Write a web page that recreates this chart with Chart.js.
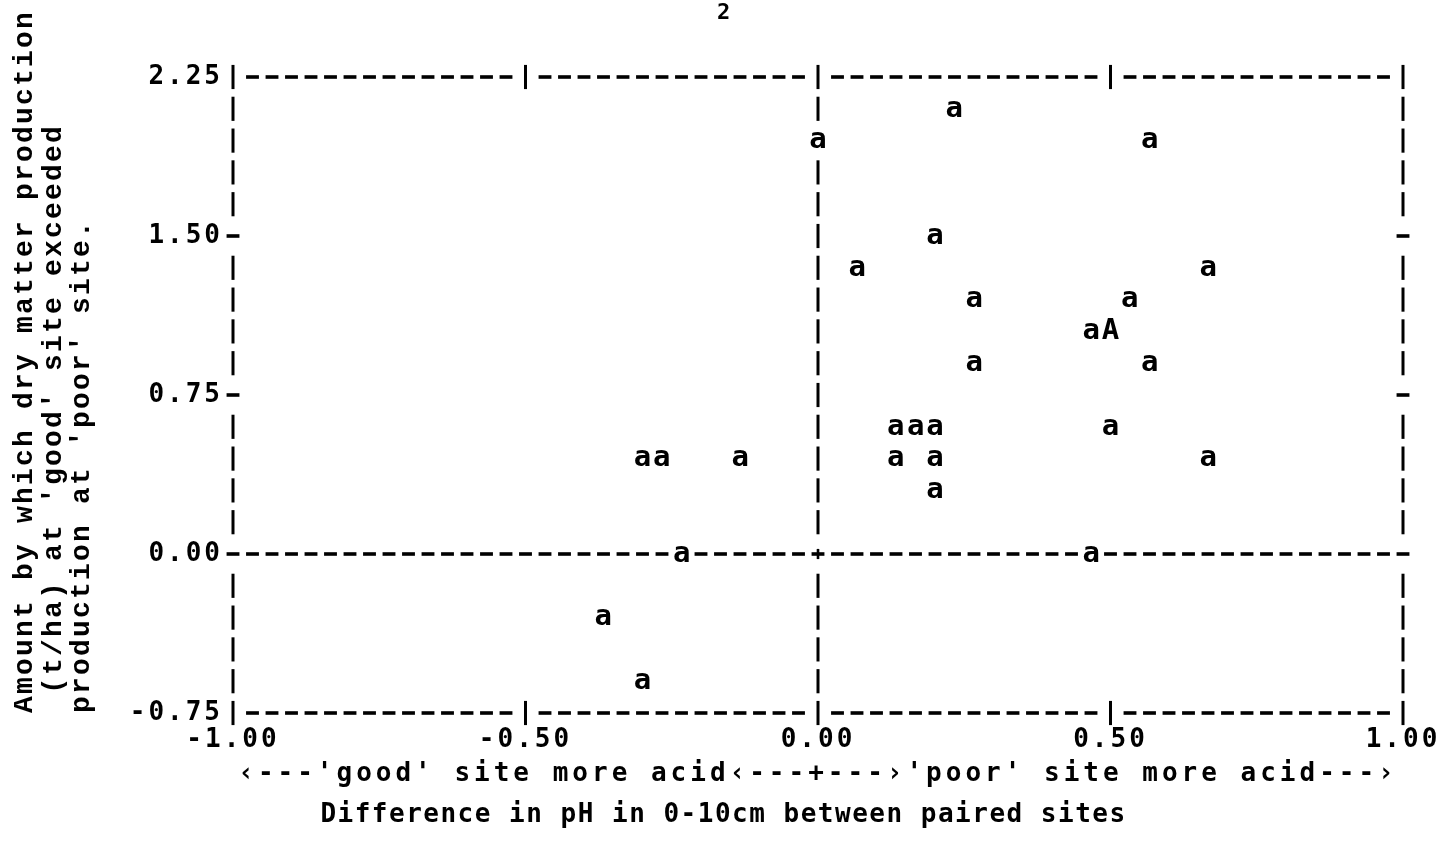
<!DOCTYPE html>
<html>
<head>
<meta charset="utf-8">
<script src="https://cdn.jsdelivr.net/npm/chart.js@4/dist/chart.umd.min.js"></script>
<style>
  html, body { margin: 0; padding: 0; background: #ffffff; }
  canvas { display: block; }
</style>
</head>
<body>
<canvas id="c" width="1447" height="847"></canvas>
<script>
// ---- content ----
const pageNumber = '2';
const xTitle = "\u2039---'good' site more acid\u2039---+---\u203a'poor' site more acid---\u203a";
const subtitleText = 'Difference in pH in 0-10cm between paired sites';
const yTitleLines = [
  'Amount by which dry matter production',
  " (t/ha) at 'good' site exceeded",
  "production at 'poor' site."
];

// ---- axes ----
const xTicks = [-1, -0.5, 0, 0.5, 1];
const xTickLabels = ['-1.00', '-0.50', '0.00', '0.50', '1.00'];
const yTicks = [-0.75, 0, 0.75, 1.5, 2.25];
const yTickLabels = ['-0.75', '0.00', '0.75', '1.50', '2.25'];
const frameX = [-1, 0, 1];          // full vertical print lines
const frameY = [2.25, 0, -0.75];    // full horizontal print lines
const colsPerUnit = 30;             // printer columns per pH unit
const rowStep = 0.15;               // printer rows in t/ha

// ---- data (symbol 'a') ----
const xLower = [0.233, 0.00, 0.567, 0.20, 0.067, 0.667, 0.267, 0.533, 0.467, 0.267, 0.567,
                0.133, 0.167, 0.20, 0.50, 0.133, 0.20, 0.667, 0.20,
                -0.30, -0.267, -0.133, -0.233, 0.467, -0.367, -0.30];
const yLower = [2.10, 1.95, 1.95, 1.50, 1.35, 1.35, 1.20, 1.20, 1.05, 0.90, 0.90,
                0.60, 0.60, 0.60, 0.60, 0.45, 0.45, 0.45, 0.30,
                0.45, 0.45, 0.45, 0.00, 0.00, -0.30, -0.60];
// ---- data (symbol 'A') ----
const xUpper = [0.50];
const yUpper = [1.05];

const MONO = '"DejaVu Sans Mono", monospace';
const near = (a, b) => Math.abs(a - b) < 1e-6;

// letter spacing per text element (printer-like wide type)
const spacingPlugin = {
  id: 'spacing',
  beforeDraw(chart) {
    const ctx = chart.ctx;
    const wrap = (obj, name, sp) => {
      if (!obj || obj['_wrapped_' + name]) return;
      const orig = obj[name];
      obj[name] = function (...args) {
        const prev = ctx.letterSpacing;
        ctx.letterSpacing = sp + 'px';
        try { return orig.apply(this, args); } finally { ctx.letterSpacing = prev; }
      };
      obj['_wrapped_' + name] = true;
    };
    wrap(chart.scales.x, 'drawLabels', 3);
    wrap(chart.scales.x, 'drawTitle', 4);
    wrap(chart.scales.y, 'drawLabels', 3);
    wrap(chart.scales.y, 'drawTitle', 2.2);
    chart.boxes.forEach(b => {
      if (b.options && b.options.text === subtitleText) wrap(b, 'draw', 1.5);
    });
  }
};

// printer frame made of '-', '|' and '+' characters
const framePlugin = {
  id: 'printerFrame',
  beforeDatasetsDraw(chart) {
    const ctx = chart.ctx;
    const xs = chart.scales.x, ys = chart.scales.y;
    const cw = Math.abs(xs.getPixelForValue(1 / colsPerUnit) - xs.getPixelForValue(0));
    const rh = Math.abs(ys.getPixelForValue(0) - ys.getPixelForValue(rowStep));
    const glyph = (ch, x, y) => {
      ctx.strokeStyle = '#000';
      ctx.lineCap = 'butt';
      if (ch === '-' || ch === '+') {
        ctx.lineWidth = 3.6;
        ctx.beginPath(); ctx.moveTo(x - cw * 0.33, y); ctx.lineTo(x + cw * 0.33, y); ctx.stroke();
      }
      if (ch === '|') {
        ctx.lineWidth = 3;
        ctx.beginPath(); ctx.moveTo(x, y - rh * 0.38); ctx.lineTo(x, y + rh * 0.38); ctx.stroke();
      }
      if (ch === '+') {
        ctx.lineWidth = 2.6;
        ctx.beginPath(); ctx.moveTo(x, y - rh * 0.16); ctx.lineTo(x, y + rh * 0.16); ctx.stroke();
      }
    };
    ctx.save();
    const nCols = Math.round((xs.max - xs.min) * colsPerUnit);
    const nRows = Math.round((ys.max - ys.min) / rowStep);
    for (const yv of frameY) {
      const py = ys.getPixelForValue(yv);
      const edge = !near(yv, 0);
      for (let j = 0; j <= nCols; j++) {
        const u = xs.min + j / colsPerUnit;
        const onTick = xTicks.some(t => near(t, u));
        let ch = '-';
        if (onTick) ch = edge ? '|' : (near(u, 0) ? '+' : '-');
        glyph(ch, xs.getPixelForValue(u), py);
      }
    }
    for (const xv of frameX) {
      const px = xs.getPixelForValue(xv);
      for (let k = 0; k <= nRows; k++) {
        const v = ys.max - k * rowStep;
        if (frameY.some(f => near(f, v))) continue;
        const tick = yTicks.some(t => near(t, v));
        glyph((tick && !near(xv, 0)) ? '-' : '|', px, ys.getPixelForValue(v));
      }
    }
    ctx.restore();
  }
};

// plotting symbols drawn at each point position
const symbolPlugin = {
  id: 'symbols',
  afterDatasetsDraw(chart) {
    const ctx = chart.ctx;
    const xs = chart.scales.x, ys = chart.scales.y;
    const cw = Math.abs(xs.getPixelForValue(1 / colsPerUnit) - xs.getPixelForValue(0));
    const rh = Math.abs(ys.getPixelForValue(0) - ys.getPixelForValue(rowStep));
    const fs = 29;
    ctx.save();
    ctx.letterSpacing = '0px';
    ctx.font = 'bold ' + fs + 'px ' + MONO;
    ctx.textAlign = 'center';
    ctx.textBaseline = 'alphabetic';
    chart.data.datasets.forEach((ds, i) => {
      const meta = chart.getDatasetMeta(i);
      meta.data.forEach(pt => {
        const { x, y } = pt.getProps(['x', 'y'], true);
        ctx.fillStyle = '#ffffff';
        ctx.fillRect(x - cw / 2, y - rh * 0.42, cw, rh * 0.84);
        ctx.fillStyle = '#000000';
        ctx.fillText(ds.symbol, x, y + 0.27 * fs);
      });
    });
    ctx.restore();
  }
};

const toPoints = (xsArr, ysArr) => xsArr.map((x, i) => ({ x: x, y: ysArr[i] }));

new Chart(document.getElementById('c'), {
  type: 'scatter',
  data: {
    datasets: [
      { label: 'a', symbol: 'a', data: toPoints(xLower, yLower), pointRadius: 0, pointHoverRadius: 0 },
      { label: 'A', symbol: 'A', data: toPoints(xUpper, yUpper), pointRadius: 0, pointHoverRadius: 0 }
    ]
  },
  options: {
    responsive: false,
    devicePixelRatio: 1,
    animation: false,
    events: [],
    clip: false,
    layout: { padding: { left: 0, right: 0, top: 0, bottom: 0 } },
    plugins: {
      legend: { display: false },
      tooltip: { enabled: false },
      title: {
        display: true,
        text: pageNumber,
        color: '#000',
        font: { family: MONO, size: 22, weight: 'bold', lineHeight: 1.2 },
        padding: { top: 0, bottom: 50.6 }
      },
      subtitle: {
        display: true,
        position: 'bottom',
        text: subtitleText,
        color: '#000',
        font: { family: MONO, size: 26, weight: 'bold', lineHeight: 1.2 },
        padding: { top: 6.4, bottom: 16.4 }
      }
    },
    scales: {
      x: {
        type: 'linear',
        min: -1, max: 1,
        afterBuildTicks: s => { s.ticks = xTicks.map(v => ({ value: v })); },
        afterFit: s => { s.height = 80; s.paddingLeft = 0; s.paddingRight = 44; },
        grid: { display: false, drawTicks: false },
        border: { display: false },
        ticks: {
          callback: (v, i) => xTickLabels[i],
          color: '#000',
          font: { family: MONO, size: 26, weight: 'bold', lineHeight: 1.2 },
          padding: 12,
          maxRotation: 0, minRotation: 0, autoSkip: false
        },
        title: {
          display: true,
          text: xTitle,
          color: '#000',
          font: { family: MONO, size: 26, weight: 'bold', lineHeight: 1.2 },
          padding: { top: 0, bottom: 3.5 }
        }
      },
      y: {
        type: 'linear',
        min: -0.75, max: 2.25,
        afterBuildTicks: s => { s.ticks = yTicks.map(v => ({ value: v })); },
        afterFit: s => { s.width = 233; s.paddingTop = 0; s.paddingBottom = 0; },
        grid: { display: false, drawTicks: false },
        border: { display: false },
        ticks: {
          callback: (v, i) => yTickLabels[i],
          color: '#000',
          font: { family: MONO, size: 26, weight: 'bold', lineHeight: 1.2 },
          padding: 10
        },
        title: {
          display: true,
          text: yTitleLines,
          align: 'start',
          color: '#000',
          font: { family: '"Liberation Mono", monospace', size: 28, weight: 'bold', lineHeight: 1.02 },
          padding: { top: 10.7, bottom: 0 }
        }
      }
    }
  },
  plugins: [spacingPlugin, framePlugin, symbolPlugin]
});
</script>
</body>
</html>
